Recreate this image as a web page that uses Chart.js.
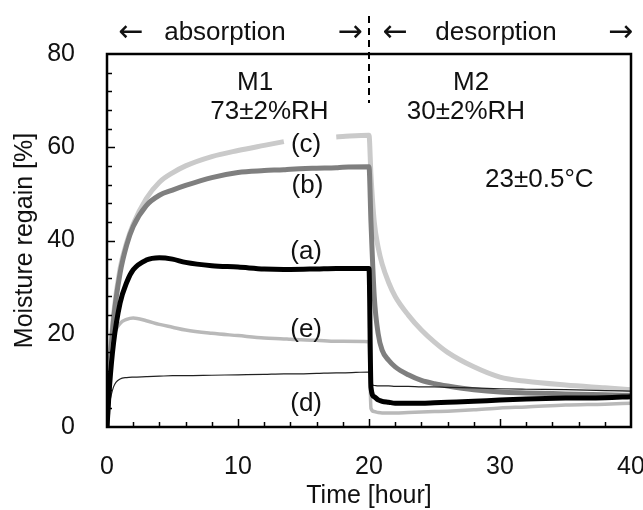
<!DOCTYPE html>
<html>
<head>
<meta charset="utf-8">
<script src="https://cdn.jsdelivr.net/npm/chart.js@4.4.1/dist/chart.umd.min.js"></script>
<style>
  body { margin: 0; background: #fff; }
  canvas { display: block; }
</style>
</head>
<body>
<canvas id="regain_chart" width="643" height="510"></canvas>
<script>
// time axis shared by all samples (hours)
const hours = [0, 0.2, 0.5, 1, 1.5, 2, 3, 4, 5, 6, 8, 10, 12, 13.5, 14, 16, 17.5, 18, 20,
  20.15, 20.4, 20.7, 21, 21.5, 22, 23, 24, 25, 26, 28, 30, 32, 35, 38, 40];

// moisture regain [%]
const sampleC = [0, 13, 24, 34, 39.5, 43.5, 49, 52.5, 54.5, 56, 58, 59.3, 60.4, 61.2, null, null, 62.2, 62.3, 62.6,
  54, 44, 38.5, 35, 31, 28, 24, 20.8, 18.2, 16, 12.9, 10.7, 9.8, 9.0, 8.4, 8.0];
const sampleB = [0, 12, 23, 33, 39, 43, 47.5, 49.7, 50.8, 51.8, 53.5, 54.6, 55, 55.2, 55.3, 55.5, 55.6, 55.7, 55.8,
  44, 28, 20, 16.5, 14.3, 12.9, 11.2, 10, 9.3, 8.8, 8.0, 7.5, 7.3, 7.1, 6.9, 6.8];
const sampleA = [0, 9, 18, 26.6, 31, 33.7, 35.8, 36.3, 36, 35.3, 34.6, 34.3, 33.9, 33.8, 33.8, 33.9, 34, 34, 34,
  8.5, 6.5, 5.8, 5.5, 5.3, 5.1, 5.1, 5.1, 5.2, 5.3, 5.5, 5.8, 6.0, 6.2, 6.3, 6.5];
const sampleE = [0, 12, 19, 22.2, 23.1, 23.4, 22.8, 22, 21.4, 20.8, 20.1, 19.6, 19.1, 18.9, 18.8, 18.6, 18.4, 18.4, 18.3,
  4, 3.3, 3.1, 3.0, 3.0, 3.0, 3.1, 3.2, 3.3, 3.4, 3.7, 4.1, 4.3, 4.7, 4.9, 5.1];
const sampleD = [0, 5, 8.6, 10.3, 10.6, 10.7, 10.8, 10.9, 11, 11, 11.1, 11.2, 11.3, 11.4, 11.4, 11.5, 11.6, 11.6, 11.8,
  9.2, 8.9, 8.8, 8.8, 8.8, 8.7, 8.7, 8.6, 8.6, 8.5, 8.4, 8.2, 8.1, 8.0, 7.8, 7.7];

const xTicks = [0, 10, 20, 30, 40];
const yTicks = [0, 20, 40, 60, 80];

const FONT = '"Liberation Sans", Arial, "DejaVu Sans", sans-serif';

function toPoints(vals) {
  return hours.map((h, i) => ({ x: h, y: vals[i] }));
}

// frame, inward ticks and the text notes
const decorations = {
  id: 'decorations',
  afterDraw(chart) {
    const ctx = chart.ctx;
    const xs = chart.scales.x;
    const ys = chart.scales.y;
    const a = chart.chartArea;
    ctx.save();

    ctx.strokeStyle = '#000';
    ctx.lineWidth = 1.5;
    for (let t = 2; t < 40; t += 2) {
      const px = Math.round(xs.getPixelForValue(t)) + 0.5;
      const len = t % 10 === 0 ? 8 : 5;
      ctx.beginPath();
      ctx.moveTo(px, a.bottom);
      ctx.lineTo(px, a.bottom - len);
      ctx.stroke();
    }
    for (let v = 4; v < 80; v += 4) {
      const py = Math.round(ys.getPixelForValue(v)) + 0.5;
      const len = v % 20 === 0 ? 8 : 5;
      ctx.beginPath();
      ctx.moveTo(a.left, py);
      ctx.lineTo(a.left + len, py);
      ctx.stroke();
    }

    ctx.lineWidth = 2.5;
    ctx.strokeRect(a.left, a.top, a.right - a.left, a.bottom - a.top);

    // dashed separator at 20 h
    const sx = Math.round(xs.getPixelForValue(20));
    ctx.lineWidth = 2;
    ctx.setLineDash([7, 5]);
    ctx.beginPath();
    ctx.moveTo(sx, 16);
    ctx.lineTo(sx, ys.getPixelForValue(69.5));
    ctx.stroke();
    ctx.setLineDash([]);

    ctx.fillStyle = '#111';
    ctx.textAlign = 'center';
    ctx.textBaseline = 'middle';
    const topY = 33;
    ctx.font = '30px "DejaVu Sans", sans-serif';
    ctx.fillText('\u2190', xs.getPixelForValue(1.83), topY);
    ctx.fillText('\u2192', xs.getPixelForValue(18.55), topY);
    ctx.fillText('\u2190', xs.getPixelForValue(22.0), topY);
    ctx.fillText('\u2192', xs.getPixelForValue(39.2), topY);
    ctx.font = '26px ' + FONT;
    ctx.fillText('absorption', xs.getPixelForValue(9.0), topY);
    ctx.fillText('desorption', xs.getPixelForValue(29.7), topY);

    const note = (txt, x, y) => ctx.fillText(txt, xs.getPixelForValue(x), ys.getPixelForValue(y));
    note('M1', 11.3, 73.8);
    note('73\u00b12%RH', 12.4, 67.6);
    note('M2', 27.8, 73.8);
    note('30\u00b12%RH', 27.4, 67.6);
    note('23\u00b10.5\u00b0C', 33.0, 53);
    note('(c)', 15.2, 60.5);
    note('(b)', 15.3, 51.7);
    note('(a)', 15.2, 37.5);
    note('(e)', 15.2, 20.8);
    note('(d)', 15.2, 4.9);
    ctx.restore();
  }
};

const reg_ctx = document.getElementById('regain_chart').getContext('2d');

new Chart(reg_ctx, {
  type: 'line',
  data: {
    datasets: [
      { label: '(a)', data: toPoints(sampleA), borderColor: '#000000', borderWidth: 5 },
      { label: '(d)', data: toPoints(sampleD), borderColor: '#222222', borderWidth: 1.2 },
      { label: '(e)', data: toPoints(sampleE), borderColor: '#b9b9b9', borderWidth: 3.5 },
      { label: '(b)', data: toPoints(sampleB), borderColor: '#7f7f7f', borderWidth: 5 },
      { label: '(c)', data: toPoints(sampleC), borderColor: '#cacaca', borderWidth: 5 }
    ]
  },
  options: {
    responsive: false,
    animation: false,
    spanGaps: false,
    elements: {
      point: { radius: 0 },
      line: { cubicInterpolationMode: 'monotone', borderCapStyle: 'butt' }
    },
    layout: { padding: { top: 54, right: 12, left: 0, bottom: 0 } },
    plugins: {
      legend: { display: false },
      tooltip: { enabled: false }
    },
    scales: {
      x: {
        type: 'linear',
        min: 0,
        max: 40,
        afterBuildTicks: (s) => { s.ticks = xTicks.map(v => ({ value: v })); },
        afterFit: (s) => { s.height = 83; s.paddingLeft = 0; s.paddingRight = 0; },
        grid: { display: false, drawTicks: false },
        border: { display: false },
        ticks: { color: '#111', padding: 25, font: { family: FONT, size: 25 } },
        title: {
          display: true,
          text: 'Time [hour]',
          color: '#111',
          padding: { top: 0, bottom: 0 },
          font: { family: FONT, size: 25, lineHeight: 1.1 }
        }
      },
      y: {
        min: 0,
        max: 80,
        afterBuildTicks: (s) => { s.ticks = yTicks.map(v => ({ value: v })); },
        afterFit: (s) => { s.width = 107; s.paddingTop = 0; s.paddingBottom = 0; },
        grid: { display: false, drawTicks: false },
        border: { display: false },
        ticks: { color: '#111', padding: 32, font: { family: FONT, size: 25 } },
        title: {
          display: true,
          text: 'Moisture regain [%]',
          color: '#111',
          padding: { top: 10, bottom: 0 },
          font: { family: FONT, size: 25 }
        }
      }
    }
  },
  plugins: [decorations]
});
</script>
</body>
</html>
